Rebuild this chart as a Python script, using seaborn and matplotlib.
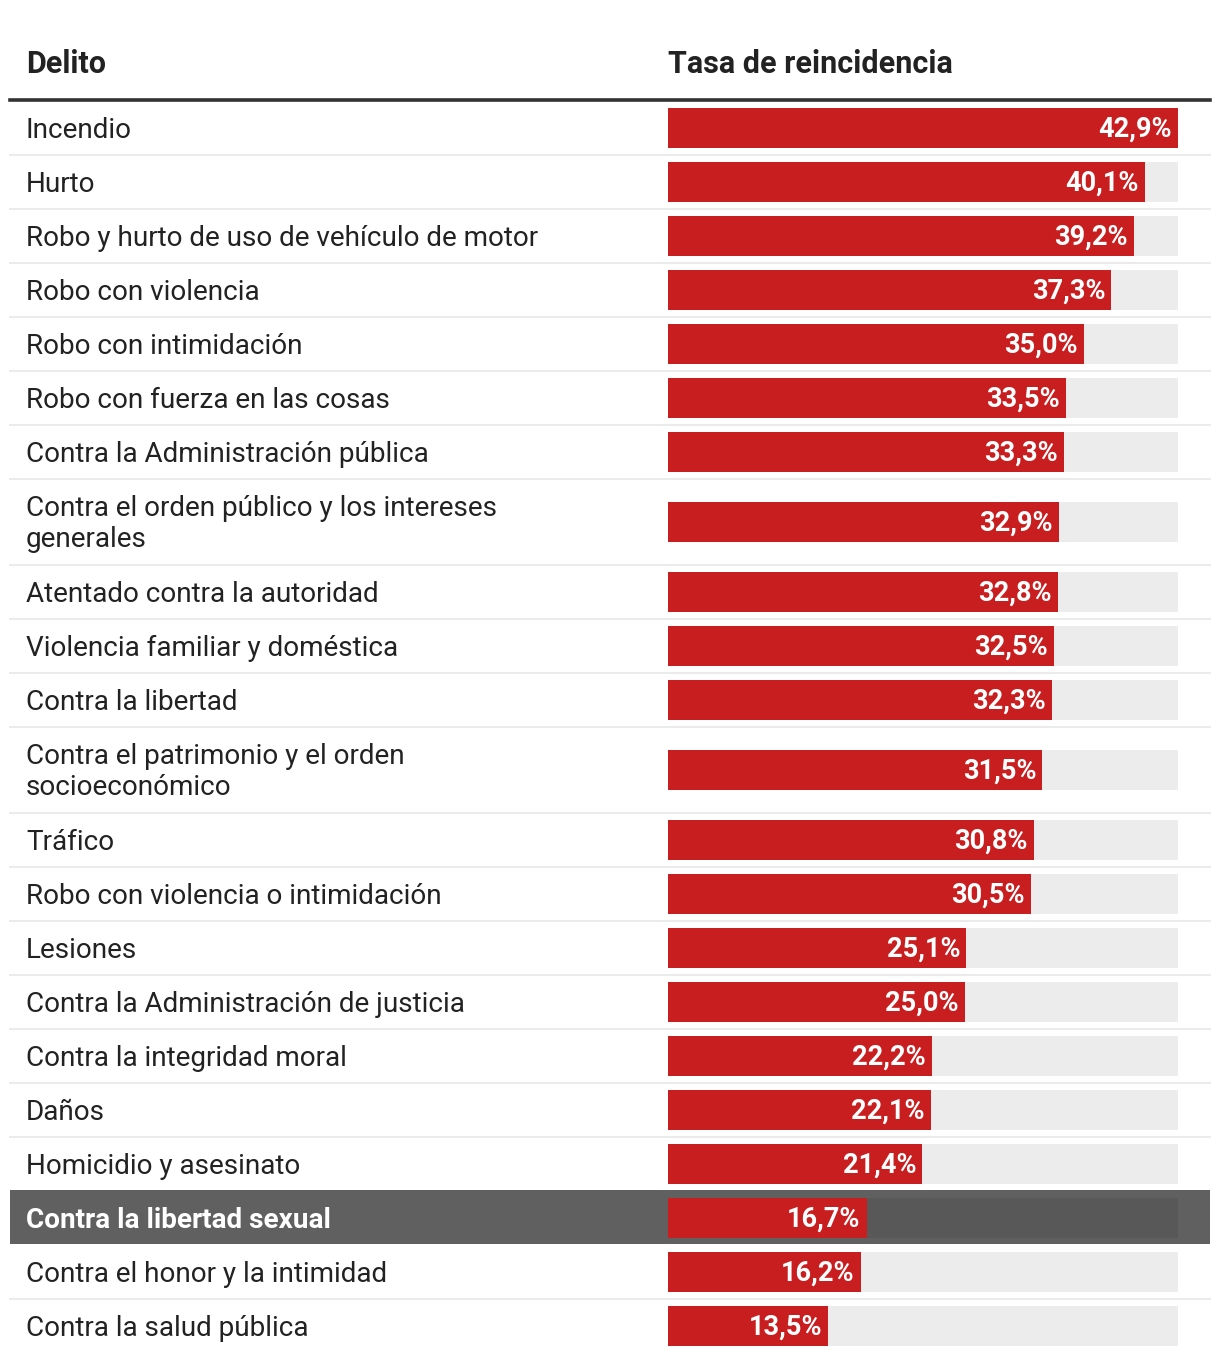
import textwrap
import matplotlib.pyplot as plt
import matplotlib.transforms as mtransforms
import pandas as pd
import seaborn as sns

# Datos
delitos = [
    "Incendio",
    "Hurto",
    "Robo y hurto de uso de vehículo de motor",
    "Robo con violencia",
    "Robo con intimidación",
    "Robo con fuerza en las cosas",
    "Contra la Administración pública",
    "Contra el orden público y los intereses generales",
    "Atentado contra la autoridad",
    "Violencia familiar y doméstica",
    "Contra la libertad",
    "Contra el patrimonio y el orden socioeconómico",
    "Tráfico",
    "Robo con violencia o intimidación",
    "Lesiones",
    "Contra la Administración de justicia",
    "Contra la integridad moral",
    "Daños",
    "Homicidio y asesinato",
    "Contra la libertad sexual",
    "Contra el honor y la intimidad",
    "Contra la salud pública",
]
tasas = [42.9, 40.1, 39.2, 37.3, 35.0, 33.5, 33.3, 32.9, 32.8, 32.5, 32.3,
         31.5, 30.8, 30.5, 25.1, 25.0, 22.2, 22.1, 21.4, 16.7, 16.2, 13.5]
destacado = "Contra la libertad sexual"
col_delito = "Delito"
col_tasa = "Tasa de reincidencia"

# Layout in pixels
W, H = 1220, 1362
ROW_TOP = 101
ROW_H = 54
LINE_H = 32
BAR_X0, BAR_X1 = 668, 1178
BAR_H = 40

rojo = "#c81e1f"
gris_fondo = "#ececec"
gris_dest = "#606060"

plt.rcParams['font.family'] = ['Roboto', 'DejaVu Sans']

etiquetas = [textwrap.fill(d, 40) for d in delitos]
alturas = [ROW_H + LINE_H * (e.count("\n")) for e in etiquetas]
tops = []
y = ROW_TOP
for h in alturas:
    tops.append(y)
    y += h
centros = [t + h / 2 for t, h in zip(tops, alturas)]

vmax = max(tasas)
df = pd.DataFrame({
    "delito": delitos,
    "tasa": tasas,
    "fondo": [vmax] * len(tasas),
    "centro": centros,
    "tipo": ["dest" if d == destacado else "normal" for d in delitos],
})

fig = plt.figure(figsize=(W / 100, H / 100), dpi=100)
ax = fig.add_axes([0, 0, 1, 1])

escala = (BAR_X1 - BAR_X0) / vmax
ancho = BAR_H / ROW_H

# highlighted row background
i_dest = delitos.index(destacado)
ax.axhspan(tops[i_dest] - 1, tops[i_dest] + alturas[i_dest] - 1,
           xmin=10 / W, xmax=1210 / W, color=gris_dest, lw=0, zorder=0)

sns.barplot(data=df, x="fondo", y="centro", hue="tipo", orient="h",
            native_scale=True, width=ancho, dodge=False, legend=False,
            palette={"normal": gris_fondo, "dest": "#585858"},
            saturation=1, ax=ax, zorder=1)
sns.barplot(data=df, x="tasa", y="centro", orient="h", native_scale=True,
            width=ancho, color=rojo, saturation=1, ax=ax, zorder=2)

ax.set_xlim(-BAR_X0 / escala, (W - BAR_X0) / escala)
ax.set_ylim(H, 0)
ax.set_axis_off()

tr = mtransforms.blended_transform_factory(ax.transAxes, ax.transData)

# header
ax.text(26 / W, 64, col_delito, transform=tr, fontsize=22,
        fontweight="bold", color="#222222", va="center", ha="left")
ax.text(0, 64, col_tasa, fontsize=22, fontweight="bold",
        color="#222222", va="center", ha="left")
ax.axhline(100, xmin=10 / W, xmax=1210 / W, color="#333333", lw=2.6)

for i, (et, v, c, t, h) in enumerate(zip(etiquetas, tasas, centros, tops, alturas)):
    es_dest = delitos[i] == destacado
    ax.text(26 / W, c + 2, et, transform=tr, fontsize=20.1,
            fontweight="bold" if es_dest else "normal",
            color="white" if es_dest else "#222222",
            va="center", ha="left", linespacing=1.22)
    ax.annotate(f"{v:.1f}".replace(".", ",") + "%", xy=(v, c),
                xytext=(-4.5, -1.2), textcoords="offset points",
                ha="right", va="center", fontsize=19.5, fontweight="bold",
                color="white", zorder=3)
    if i < len(delitos) - 1 and not es_dest and delitos[i + 1] != destacado:
        ax.axhline(t + h, xmin=10 / W, xmax=1210 / W, color="#ebebeb", lw=1.5)

plt.savefig("out.png", dpi=100)
